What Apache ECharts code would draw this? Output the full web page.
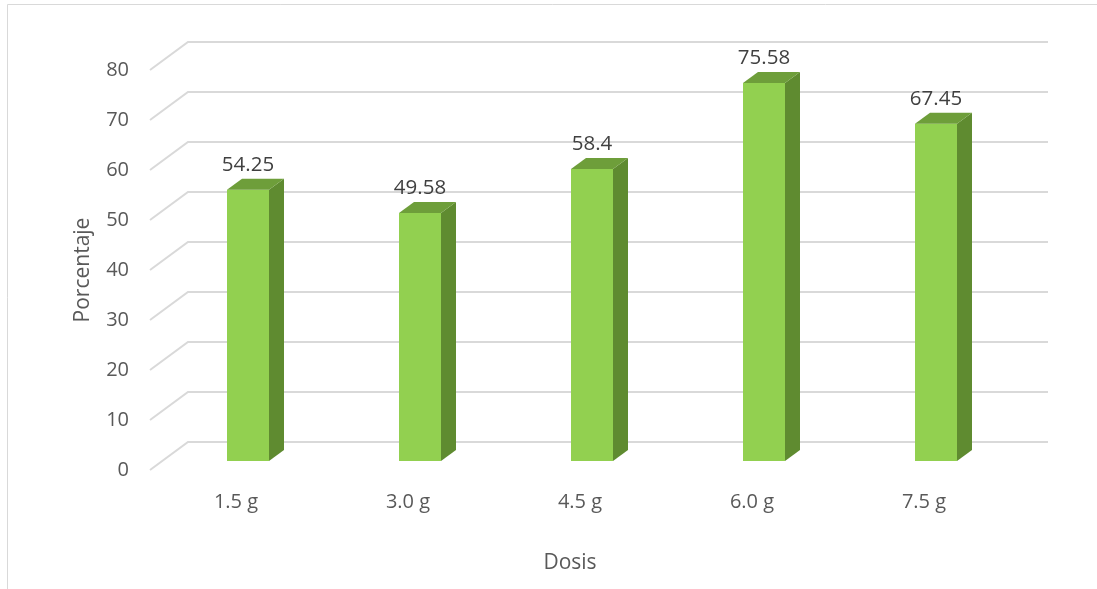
<!DOCTYPE html>
<html>
<head>
<meta charset="utf-8">
<style>
  html, body { margin: 0; padding: 0; background: #ffffff; }
  #chart { width: 1097px; height: 589px; }
</style>
<script src="https://cdn.jsdelivr.net/npm/echarts@6/dist/echarts.min.js"></script>
</head>
<body>
<div id="chart"></div>
<script>
// Dose categories and response percentages
const categories = ['1.5 g', '3.0 g', '4.5 g', '6.0 g', '7.5 g'];
const values = [54.25, 49.58, 58.4, 75.58, 67.45];
const yTicks = [0, 10, 20, 30, 40, 50, 60, 70, 80];

// Pseudo-3D geometry (pixels)
const WALL_DX = 38, WALL_DY = -28;   // floor depth from front plane to back wall
const FACE_DX = 12, FACE_DY = -9;    // where the bar's front face sits in depth
const BAR_DX = 15, BAR_DY = -11;     // bar depth
const BAR_W = 42;

const FONT = '"Open Sans", "Noto Sans", sans-serif';
const TEXT_AXIS = '#595959';
const TEXT_LABEL = '#404040';

const chart = echarts.init(document.getElementById('chart'), null, { renderer: 'canvas' });

function renderGrid(params, api) {
  const v = api.value(1);
  const p = api.coord([0, v]);
  const cs = params.coordSys;
  const x0 = cs.x, x1 = cs.x + cs.width;
  return {
    type: 'polyline',
    shape: { points: [[x0, p[1]], [x0 + WALL_DX, p[1] + WALL_DY], [x1 + WALL_DX, p[1] + WALL_DY]] },
    style: { stroke: '#D9D9D9', lineWidth: 2, fill: null },
    silent: true
  };
}

function renderBar(params, api) {
  const idx = api.value(0);
  const val = api.value(1);
  const top = api.coord([idx, val]);
  const base = api.coord([idx, 0]);
  const cx = top[0] + FACE_DX;
  const l = cx - BAR_W / 2, r = cx + BAR_W / 2;
  const yt = top[1] + FACE_DY, yb = base[1] + FACE_DY;
  return {
    type: 'group',
    children: [
      { type: 'rect', shape: { x: l, y: yt, width: BAR_W, height: yb - yt }, style: { fill: '#92D050' } },
      { type: 'polygon', shape: { points: [[r, yt], [r + BAR_DX, yt + BAR_DY], [r + BAR_DX, yb + BAR_DY], [r, yb]] },
        style: { fill: '#5F8B30' } },
      { type: 'polygon', shape: { points: [[l, yt], [l + BAR_DX, yt + BAR_DY], [r + BAR_DX, yt + BAR_DY], [r, yt]] },
        style: { fill: '#6E9E3A' } },
      { type: 'text', x: cx, y: yt - 25,
        style: { text: String(val), fill: TEXT_LABEL, font: '20.5px ' + FONT, align: 'center', verticalAlign: 'middle' } }
    ]
  };
}

chart.setOption({
  animation: false,
  backgroundColor: '#ffffff',
  graphic: [
    { type: 'rect', shape: { x: 7.5, y: 4.5, width: 1300, height: 800 },
      style: { fill: null, stroke: '#D9D9D9', lineWidth: 1 }, silent: true, z: -10 }
  ],
  grid: { left: 150, right: 87, top: 70, bottom: 119 },
  xAxis: {
    type: 'category',
    data: categories,
    name: 'Dosis',
    nameLocation: 'middle',
    nameGap: 83,
    nameTextStyle: { color: TEXT_AXIS, fontSize: 21, fontFamily: FONT, padding: [0, 20, 0, 0] },
    axisLine: { show: false },
    axisTick: { show: false },
    axisLabel: { color: TEXT_AXIS, fontSize: 20, fontFamily: FONT, margin: 22 },
    splitLine: { show: false }
  },
  yAxis: {
    type: 'value',
    min: 0, max: 80, interval: 10,
    name: 'Porcentaje',
    nameLocation: 'middle',
    nameRotate: 90,
    nameGap: 56,
    nameTextStyle: { color: TEXT_AXIS, fontSize: 21, fontFamily: FONT },
    axisLine: { show: false },
    axisTick: { show: false },
    axisLabel: { color: TEXT_AXIS, fontSize: 20, fontFamily: FONT, margin: 21 },
    splitLine: { show: false }
  },
  series: [
    {
      type: 'custom',
      z: 1,
      renderItem: renderGrid,
      data: yTicks.map(t => [0, t]),
      silent: true,
      clip: false
    },
    {
      type: 'custom',
      z: 2,
      renderItem: renderBar,
      data: values.map((v, i) => [i, v]),
      clip: false
    }
  ]
});
</script>
</body>
</html>
